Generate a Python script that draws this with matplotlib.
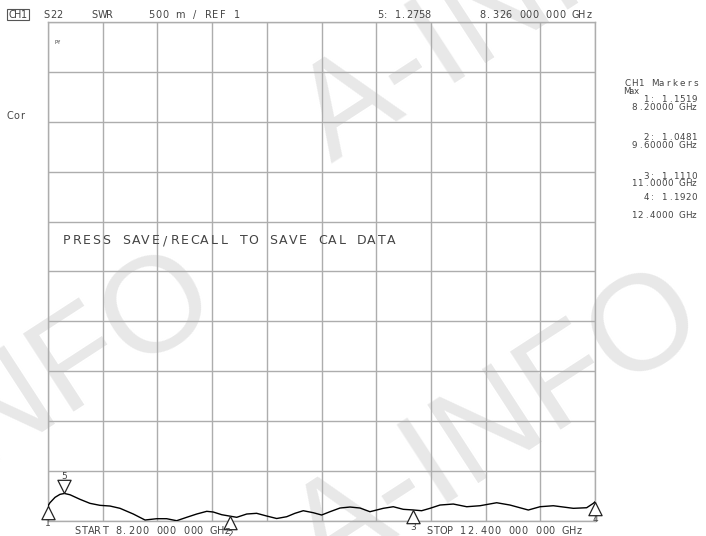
#!/usr/bin/env python3
"""Network analyzer screen: S22 SWR trace, 8.2-12.4 GHz, with marker table."""

import matplotlib

matplotlib.use("Agg")
import matplotlib.pyplot as plt  # noqa: E402
import numpy as np  # noqa: E402
from matplotlib.patches import Rectangle  # noqa: E402
from matplotlib.path import Path  # noqa: E402

# trace (GHz, SWR)
freq_ghz = [8.200, 8.215, 8.254, 8.292, 8.326, 8.369, 8.446, 8.522, 8.599, 8.676,
            8.753, 8.855, 8.945, 9.035, 9.111, 9.188, 9.265, 9.342, 9.419, 9.469,
            9.534, 9.600, 9.649, 9.726, 9.802, 9.879, 9.956, 10.033, 10.096, 10.160,
            10.237, 10.301, 10.365, 10.442, 10.519, 10.596, 10.672, 10.774, 10.851, 10.928,
            11.000, 11.069, 11.133, 11.210, 11.312, 11.415, 11.517, 11.645, 11.747, 11.888,
            11.978, 12.080, 12.234, 12.336, 12.387, 12.400]
swr = [1.152, 1.183, 1.237, 1.267, 1.276, 1.263, 1.217, 1.177, 1.157, 1.150,
       1.127, 1.070, 1.010, 1.023, 1.023, 1.003, 1.037, 1.070, 1.097, 1.090,
       1.063, 1.048, 1.037, 1.070, 1.077, 1.050, 1.025, 1.043, 1.077, 1.103,
       1.083, 1.060, 1.093, 1.130, 1.140, 1.130, 1.093, 1.127, 1.143, 1.117,
       1.111, 1.103, 1.127, 1.160, 1.170, 1.143, 1.153, 1.183, 1.160, 1.110,
       1.143, 1.153, 1.127, 1.133, 1.177, 1.192]

marker_ids = [1, 2, 3, 4, 5]
marker_freq = [8.2, 9.6, 11.0, 12.4, 8.326]
marker_swr = [1.1519, 1.0481, 1.1110, 1.1920, 1.2758]
active_marker = 5

START_GHZ, STOP_GHZ = 8.2, 12.4
REF, SCALE, NDIV = 1.0, 0.5, 10

W, H = 706, 536
TEXT = "#444444"
GRID = "#adadad"
WATERMARK = "#e8e8e8"

fig = plt.figure(figsize=(W / 100, H / 100), dpi=100)


def px_text(x, y, s, pitch=6.7, size=7, **kw):
    """Instrument-style text on a fixed character pitch, (x, y) in screen pixels."""
    for i, ch in enumerate(s):
        if ch == " ":
            continue
        fig.text((x + (i + 0.5) * pitch) / W, 1 - y / H, ch, ha="center", va="center",
                 fontsize=size, color=TEXT, **kw)


# faint diagonal watermarks behind the graticule
for cx, cy in [(506, 8), (12, 410), (499, 428)]:
    fig.text(cx / W, 1 - cy / H, "A-INFO", fontsize=98, color=WATERMARK,
             family="Liberation Sans", rotation=33, rotation_mode="anchor",
             ha="center", va="center", zorder=-5)

ax = fig.add_axes([48 / W, 1 - 521 / H, 547 / W, 499 / H])
ax.patch.set_alpha(0)
ax.set_xlim(START_GHZ, STOP_GHZ)
ax.set_ylim(REF, REF + SCALE * NDIV)
ax.set_xticks(np.linspace(START_GHZ, STOP_GHZ, NDIV + 1))
ax.set_yticks(np.linspace(REF, REF + SCALE * NDIV, NDIV + 1))
ax.tick_params(length=0, labelbottom=False, labelleft=False)
ax.grid(color=GRID, lw=1)
for sp in ax.spines.values():
    sp.set_color(GRID)
    sp.set_linewidth(1)

ax.plot(freq_ghz, swr, color="black", lw=1.0, zorder=3)

# marker triangles: tip sits on the trace
up = Path([(0, 0), (-0.5, -1), (0.5, -1), (0, 0)], closed=True)
down = Path([(0, 0), (-0.5, 1), (0.5, 1), (0, 0)], closed=True)
for mid, f, s in zip(marker_ids, marker_freq, marker_swr):
    is_active = mid == active_marker
    ax.plot([f], [s], marker=down if is_active else up, markersize=19, mfc="white",
            mec="#222222", mew=0.9, clip_on=False, zorder=4)
    ax.annotate(str(mid), xy=(f, s), xytext=(0, 17 if is_active else -18),
                textcoords="offset pixels", ha="center", va="center",
                fontsize=6.5, color=TEXT, annotation_clip=False)

# header
fig.patches.append(Rectangle((7 / W, 1 - 20 / H), 22 / W, 11 / H, transform=fig.transFigure,
                             fill=False, ec="#555555", lw=0.8))
px_text(8.5, 15, "CH1", pitch=6.2)
px_text(43, 15, "S22")
px_text(91, 15, "SWR", pitch=7.4)
px_text(148, 15, "500 m / REF 1", pitch=7.1)
act = marker_ids.index(active_marker)
px_text(377, 15, f"5: {marker_swr[act]:.4f}", pitch=5.9)
px_text(479, 15, "8.326 000 000 GHz", pitch=6.65)

px_text(7, 116, "Cor", pitch=6.2)
px_text(54, 42, "Pf", pitch=3.5, size=4)

px_text(62, 241, "PRESS SAVE/RECALL TO SAVE CAL DATA", pitch=9.83, size=9)

px_text(74, 531, "START 8.200 000 000 GHz", pitch=6.8)
px_text(426, 531, "STOP 12.400 000 000 GHz", pitch=6.8)

# marker table on the right
px_text(624, 84, "CH1 Markers", pitch=6.8, size=6.3)
px_text(624, 92, "Max", pitch=5.0, size=6.3)
table_y = [(100, 108), (137, 146), (176, 184), (197, 216)]
for (y1, y2), mid, f, s in zip(table_y, marker_ids, marker_freq, marker_swr):
    px_text(643, y1, f"{mid}: {s:.4f}", pitch=6.0, size=6.3)
    fstr = f"{f:.5f}" if f < 10 else f"{f:.4f}"
    px_text(631, y2, f"{fstr} GHz", pitch=6.0, size=6.3)

fig.savefig("out.png", dpi=100)
plt.close(fig)
